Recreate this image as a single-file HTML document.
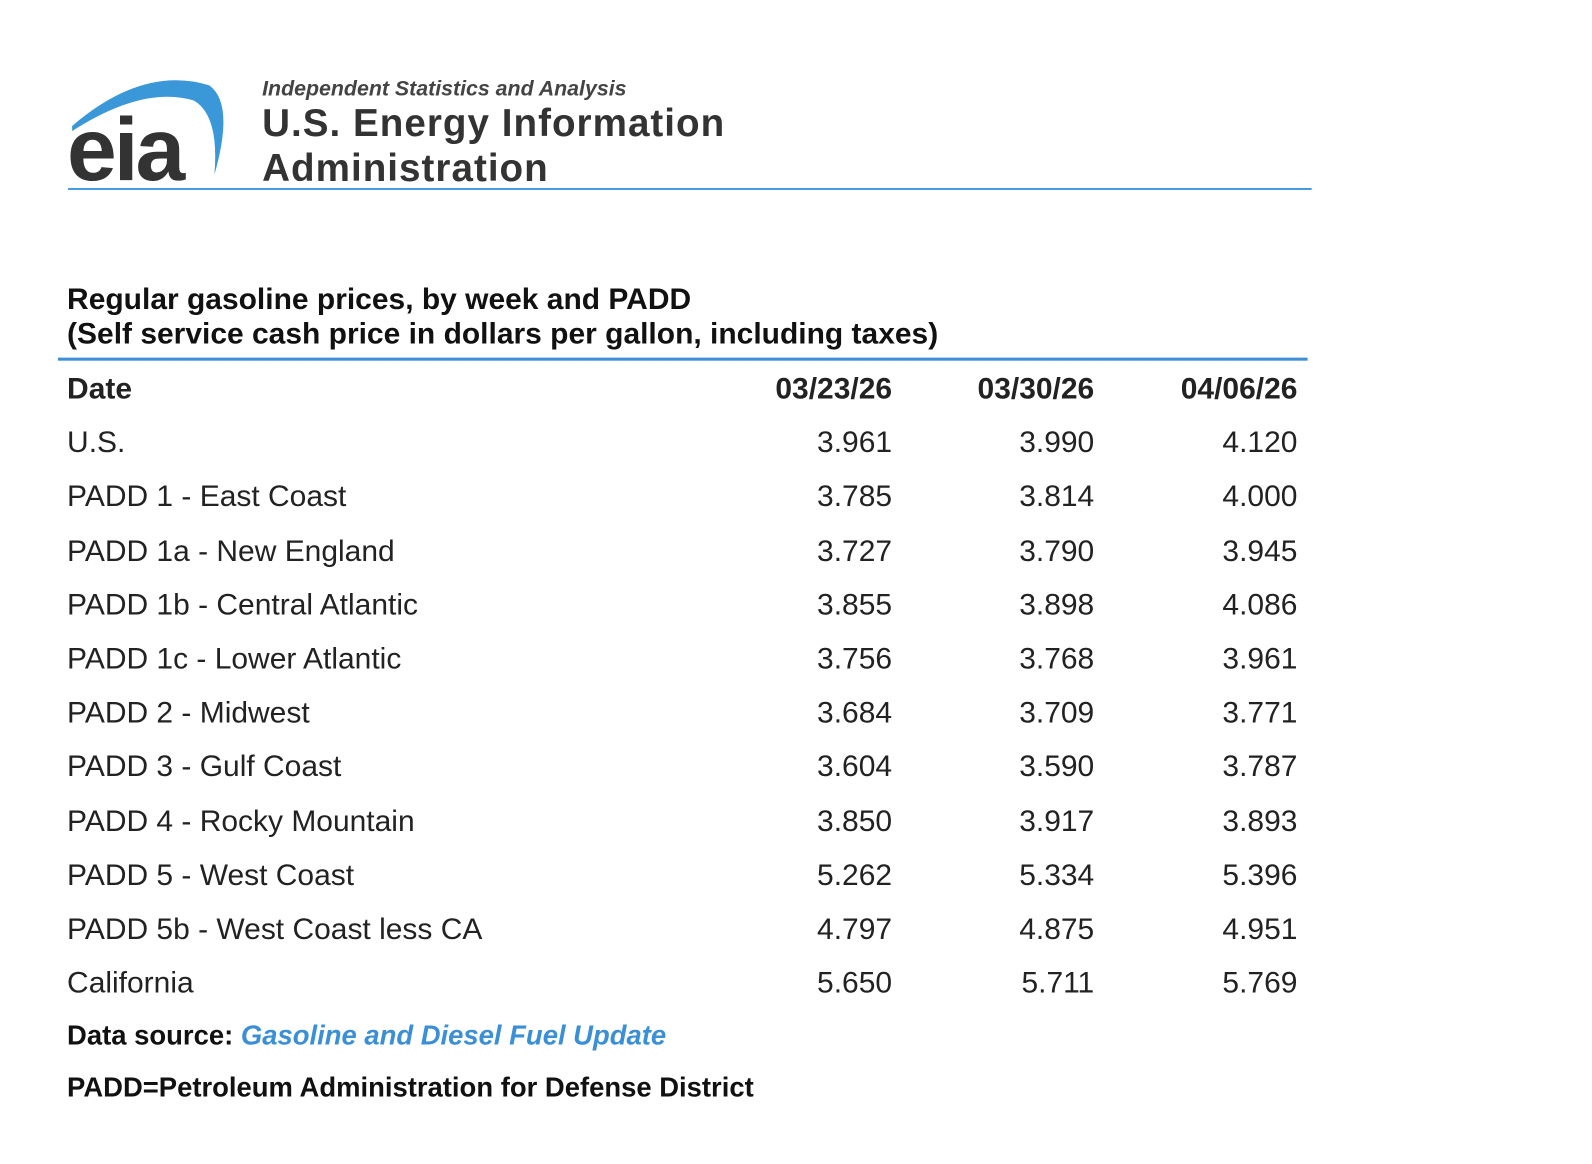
<!DOCTYPE html>
<html><head><meta charset="utf-8"><style>
body{margin:0;width:1592px;height:1146px;background:#fff;font-family:"Liberation Sans",Arial,sans-serif;color:#222;position:relative;overflow:hidden}
#w{position:absolute;left:0;top:0;width:1592px;height:1146px;transform:scale(1.016);transform-origin:0 0}
.a{position:absolute;white-space:nowrap}
.r{position:absolute;white-space:nowrap;text-align:right;width:200px}
.t{font-size:29.5px;line-height:32px}
</style></head><body><div id="w">
<svg class="a" style="left:66px;top:74px" width="170" height="110">
<path d="M5 50 Q75 -10 140 10 Q165 28 145 98 Q150 40 125 25 Q75 10 5 55Z" fill="#3a97d8"/>
<text x="0" y="103" font-family="Liberation Sans" font-weight="bold" font-size="88" fill="#333" letter-spacing="-3">eia</text>
</svg>
<div class="a" style="left:258px;top:76px;font-size:21px;font-style:italic;color:#444;font-weight:bold">Independent Statistics and Analysis</div>
<div class="a" style="left:258px;top:100px;font-size:38px;font-weight:bold;color:#333;line-height:44px;letter-spacing:1px">U.S. Energy Information<br>Administration</div>
<div class="a" style="left:67px;top:185px;width:1224px;height:2px;background:#4a9ae0"></div>
<div class="a" style="left:66px;top:278px;font-weight:bold;color:#111;font-size:29.5px;line-height:34px">Regular gasoline prices, by week and PADD<br>(Self service cash price in dollars per gallon, including taxes)</div>
<div class="a" style="left:57px;top:352px;width:1230px;height:3px;background:#3f8fd8"></div>
<div id="tb"></div>
<div class="a" style="left:66px;top:1004px;font-size:27px;font-weight:bold;color:#111">Data source: <span style="color:#3a8fd6;font-style:italic">Gasoline and Diesel Fuel Update</span></div>
<div class="a" style="left:66px;top:1055px;font-size:27px;font-weight:bold;color:#111">PADD=Petroleum Administration for Defense District</div>
</div>
<script>
var rows=[["Date","03/23/26","03/30/26","04/06/26"],["U.S.","3.961","3.990","4.120"],["PADD 1 - East Coast","3.785","3.814","4.000"],["PADD 1a - New England","3.727","3.790","3.945"],["PADD 1b - Central Atlantic","3.855","3.898","4.086"],["PADD 1c - Lower Atlantic","3.756","3.768","3.961"],["PADD 2 - Midwest","3.684","3.709","3.771"],["PADD 3 - Gulf Coast","3.604","3.590","3.787"],["PADD 4 - Rocky Mountain","3.850","3.917","3.893"],["PADD 5 - West Coast","5.262","5.334","5.396"],["PADD 5b - West Coast less CA","4.797","4.875","4.951"],["California","5.650","5.711","5.769"]];
var h="";rows.forEach(function(r,i){var y=367+i*53.2;var b=i==0?"font-weight:bold;":"";
h+='<div class="a t" style="left:66px;top:'+y+'px;'+b+'">'+r[0]+'</div>';
[878,1077,1277].forEach(function(x,j){h+='<div class="r t" style="left:'+(x-200)+'px;top:'+y+'px;'+b+'">'+r[j+1]+'</div>';});});
document.getElementById("tb").innerHTML=h;
</script>
</body></html>
